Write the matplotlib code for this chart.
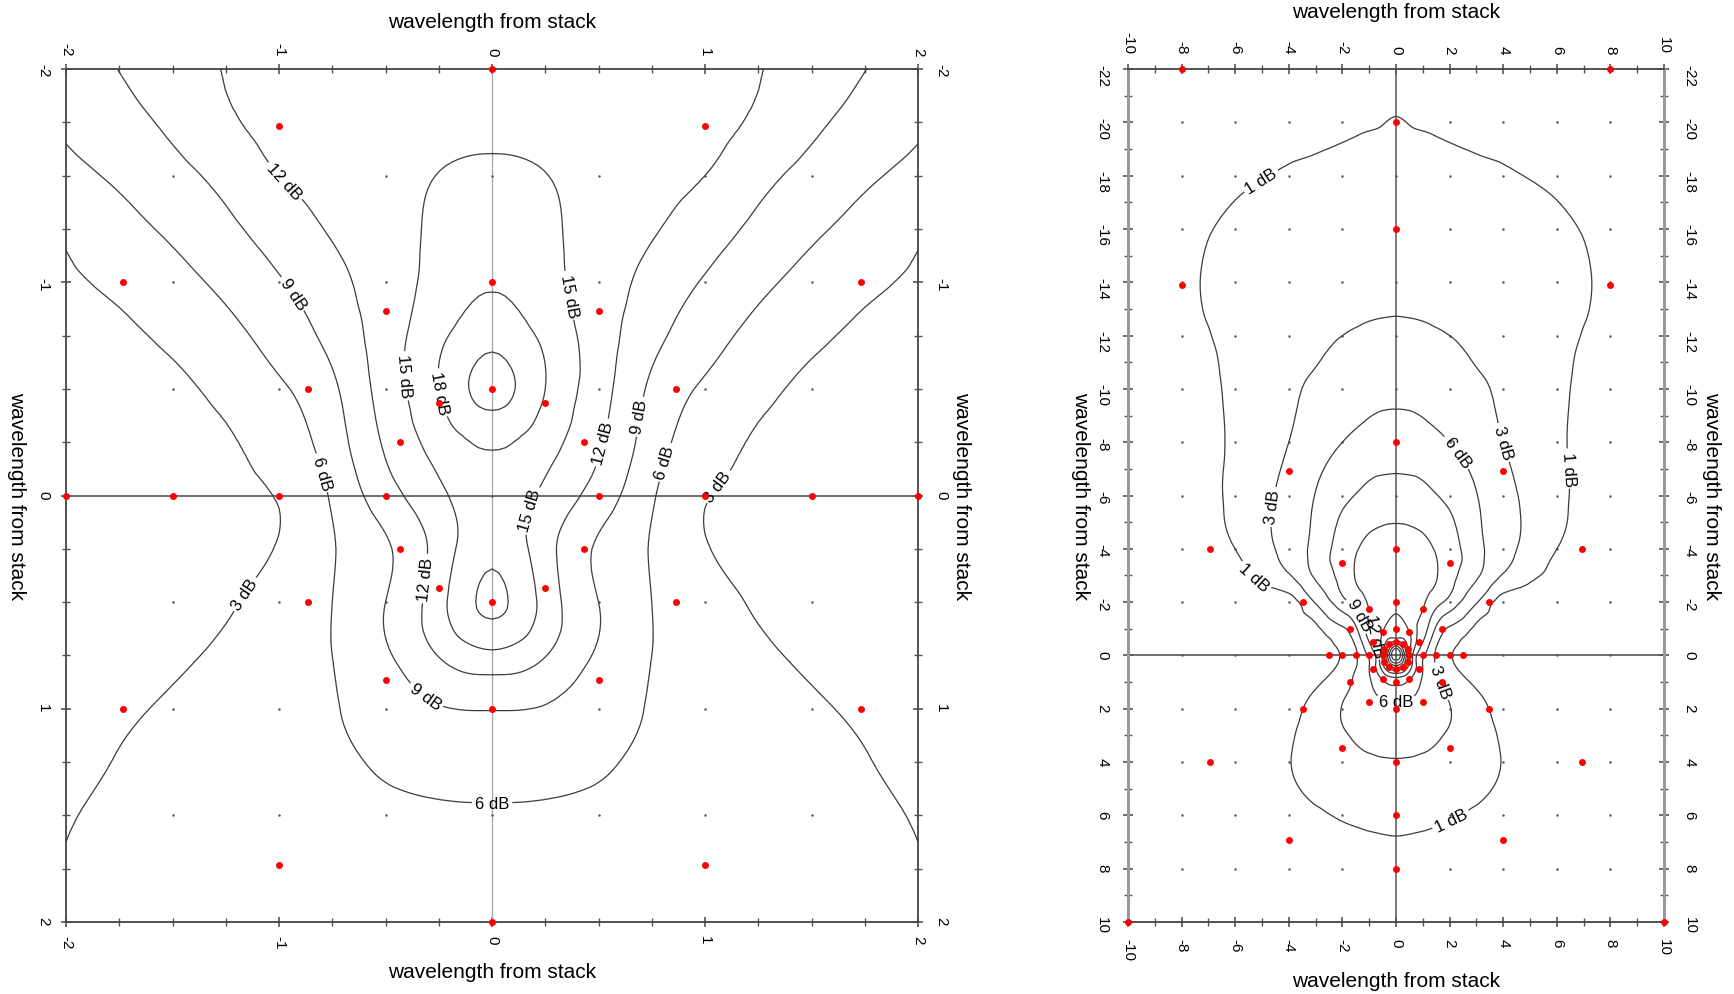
import numpy as np
import matplotlib
matplotlib.use("Agg")
import matplotlib.pyplot as plt
import matplotlib.tri as mtri
from matplotlib.ticker import MultipleLocator

plt.rcParams['font.family'] = ['Liberation Sans', 'DejaVu Sans']
plt.rcParams['axes.unicode_minus'] = False

# ---------------- data: left panel (close-up) ----------------
left_x_nodes = [-2, -1.75, -1.5, -1.25, -1, -0.75, -0.5, -0.25, 0, 0.25, 0.5, 0.75, 1, 1.25, 1.5, 1.75, 2]
left_y_nodes = [-2, -1.75, -1.5, -1.25, -1, -0.75, -0.5, -0.25, 0, 0.25, 0.5, 0.75, 1, 1.25, 1.5, 1.75, 2]
left_db = [
    [7.7, 9.05, 10.7, 12.1, 12.4, 12.7, 13.0, 13.2, 13.3, 13.2, 13.0, 12.7, 12.4, 12.1, 10.7, 9.05, 7.7],
    [6.5, 8.0, 9.6, 11.55, 12.75, 13.4, 13.9, 14.2, 14.3, 14.2, 13.9, 13.4, 12.75, 11.55, 9.6, 8.0, 6.5],
    [5.1, 6.5, 8.05, 9.95, 12.0, 13.05, 14.1, 15.05, 15.5, 15.05, 14.1, 13.05, 12.0, 9.95, 8.05, 6.5, 5.1],
    [3.4, 5.0, 6.5, 8.3, 10.4, 12.3, 14.0, 15.5, 16.6, 15.5, 14.0, 12.3, 10.4, 8.3, 6.5, 5.0, 3.4],
    [2.6, 3.6, 5.0, 6.7, 8.75, 11.0, 13.6, 16.0, 17.8, 16.0, 13.6, 11.0, 8.75, 6.7, 5.0, 3.6, 2.6],
    [1.75, 2.45, 3.55, 5.1, 7.2, 9.9, 13.5, 17.3, 19.8, 17.3, 13.5, 9.9, 7.2, 5.1, 3.55, 2.45, 1.75],
    [1.3, 1.8, 2.45, 3.75, 5.6, 8.45, 13.3, 18.0, 22.0, 18.0, 13.3, 8.45, 5.6, 3.75, 2.45, 1.8, 1.3],
    [1.15, 1.5, 1.95, 2.7, 4.3, 7.5, 12.4, 16.2, 18.5, 16.2, 12.4, 7.5, 4.3, 2.7, 1.95, 1.5, 1.15],
    [1.2, 1.5, 1.9, 2.5, 3.15, 6.35, 10.7, 14.4, 16.5, 14.4, 10.7, 6.35, 3.15, 2.5, 1.9, 1.5, 1.2],
    [1.3, 1.6, 2.0, 2.55, 3.15, 5.8, 8.6, 13.2, 17.0, 13.2, 8.6, 5.8, 3.15, 2.55, 2.0, 1.6, 1.3],
    [1.45, 1.8, 2.2, 2.8, 3.9, 6.0, 9.0, 13.9, 18.6, 13.9, 9.0, 6.0, 3.9, 2.8, 2.2, 1.8, 1.45],
    [1.7, 2.1, 2.65, 3.45, 4.7, 6.0, 8.6, 12.1, 14.3, 12.1, 8.6, 6.0, 4.7, 3.45, 2.65, 2.1, 1.7],
    [2.0, 2.65, 3.3, 4.2, 5.05, 5.85, 7.2, 8.8, 9.1, 8.8, 7.2, 5.85, 5.05, 4.2, 3.3, 2.65, 2.0],
    [2.5, 3.1, 3.8, 4.45, 5.0, 5.6, 6.3, 7.0, 7.2, 7.0, 6.3, 5.6, 5.0, 4.45, 3.8, 3.1, 2.5],
    [2.9, 3.35, 3.85, 4.35, 4.8, 5.2, 5.5, 5.65, 5.7, 5.65, 5.5, 5.2, 4.8, 4.35, 3.85, 3.35, 2.9],
    [3.05, 3.4, 3.75, 4.1, 4.45, 4.75, 5.0, 5.15, 5.2, 5.15, 5.0, 4.75, 4.45, 4.1, 3.75, 3.4, 3.05],
    [3.1, 3.35, 3.6, 3.85, 4.15, 4.4, 4.6, 4.75, 4.8, 4.75, 4.6, 4.4, 4.15, 3.85, 3.6, 3.35, 3.1],
]
left_levels = [3, 6, 9, 12, 15, 18, 21]

# measurement points (red) shown in the left panel
left_pts_x = [0, 0.25, 0.433, 0.5, 0.433, 0.25, 0, -0.25, -0.433, -0.5, -0.433, -0.25,
              0, 0.5, 0.866, 1, 0.866, 0.5, 0, -0.5, -0.866, -1, -0.866, -0.5,
              1.5, -1.5,
              0, 1, 1.732, 2, 1.732, 1, 0, -1, -1.732, -2, -1.732, -1]
left_pts_y = [-0.5, -0.433, -0.25, 0, 0.25, 0.433, 0.5, 0.433, 0.25, 0, -0.25, -0.433,
              -1, -0.866, -0.5, 0, 0.5, 0.866, 1, 0.866, 0.5, 0, -0.5, -0.866,
              0, 0,
              -2, -1.732, -1, 0, 1, 1.732, 2, 1.732, 1, 0, -1, -1.732]

# ---------------- data: right panel (wide view) ----------------
right_x_nodes = [-10, -8, -6, -4, -3, -2, -1.5, -1, -0.5, 0, 0.5, 1, 1.5, 2, 3, 4, 6, 8, 10]
right_y_nodes = [-22, -20, -18, -16, -14, -12, -10, -8, -6, -4, -3, -2, -1, -0.5, 0, 0.5, 1, 2, 3, 4, 6, 8, 10]
right_db = [
    [0.1, 0.18, 0.25, 0.33, 0.36, 0.4, 0.42, 0.45, 0.48, 0.5, 0.48, 0.45, 0.42, 0.4, 0.36, 0.33, 0.25, 0.18, 0.1],
    [0.3, 0.4, 0.5, 0.6, 0.66, 0.76, 0.84, 0.91, 0.97, 1.06, 0.97, 0.91, 0.84, 0.76, 0.66, 0.6, 0.5, 0.4, 0.3],
    [0.4, 0.6, 0.85, 1.1, 1.25, 1.42, 1.47, 1.5, 1.53, 1.55, 1.53, 1.5, 1.47, 1.42, 1.25, 1.1, 0.85, 0.6, 0.4],
    [0.5, 0.8, 1.15, 1.5, 1.75, 1.93, 2.0, 2.05, 2.09, 2.1, 2.09, 2.05, 2.0, 1.93, 1.75, 1.5, 1.15, 0.8, 0.5],
    [0.5, 0.85, 1.35, 1.9, 2.15, 2.38, 2.45, 2.5, 2.53, 2.55, 2.53, 2.5, 2.45, 2.38, 2.15, 1.9, 1.35, 0.85, 0.5],
    [0.4, 0.75, 1.3, 2.2, 2.6, 3.0, 3.15, 3.3, 3.37, 3.4, 3.37, 3.3, 3.15, 3.0, 2.6, 2.2, 1.3, 0.75, 0.4],
    [0.3, 0.55, 1.25, 2.65, 3.3, 4.1, 4.65, 5.0, 5.15, 5.2, 5.15, 5.0, 4.65, 4.1, 3.3, 2.65, 1.25, 0.55, 0.3],
    [0.3, 0.5, 1.2, 3.0, 4.5, 6.0, 6.5, 7.0, 7.35, 7.4, 7.35, 7.0, 6.5, 6.0, 4.5, 3.0, 1.2, 0.5, 0.3],
    [0.3, 0.5, 1.3, 4.0, 6.1, 8.3, 9.1, 9.9, 10.2, 10.3, 10.2, 9.9, 9.1, 8.3, 6.1, 4.0, 1.3, 0.5, 0.3],
    [0.3, 0.5, 1.0, 4.1, 7.0, 10.4, 11.8, 12.6, 13.0, 13.2, 13.0, 12.6, 11.8, 10.4, 7.0, 4.1, 1.0, 0.5, 0.3],
    [0.3, 0.45, 0.6, 2.8, 6.5, 10.1, 12.2, 13.2, 13.7, 13.9, 13.7, 13.2, 12.2, 10.1, 6.5, 2.8, 0.6, 0.45, 0.3],
    [0.2, 0.25, 0.3, 0.4, 3.2, 8.0, 10.0, 12.5, 14.0, 14.2, 14.0, 12.5, 10.0, 8.0, 3.2, 0.4, 0.3, 0.25, 0.2],
    [0.2, 0.25, 0.3, 0.4, 0.7, 2.6, 5.5, 10.5, 14.5, 16.5, 14.5, 10.5, 5.5, 2.6, 0.7, 0.4, 0.3, 0.25, 0.2],
    [0.2, 0.25, 0.3, 0.35, 0.5, 1.4, 3.6, 9.0, 16.0, 22.0, 16.0, 9.0, 3.6, 1.4, 0.5, 0.35, 0.3, 0.25, 0.2],
    [0.15, 0.2, 0.25, 0.35, 0.5, 1.1, 2.6, 6.5, 16.0, 33.0, 16.0, 6.5, 2.6, 1.1, 0.5, 0.35, 0.25, 0.2, 0.15],
    [0.15, 0.2, 0.3, 0.4, 0.5, 1.4, 3.0, 6.0, 13.0, 20.0, 13.0, 6.0, 3.0, 1.4, 0.5, 0.4, 0.3, 0.2, 0.15],
    [0.15, 0.2, 0.3, 0.45, 0.8, 2.1, 3.5, 5.6, 8.5, 10.0, 8.5, 5.6, 3.5, 2.1, 0.8, 0.45, 0.3, 0.2, 0.15],
    [0.15, 0.2, 0.35, 0.7, 1.4, 3.1, 3.9, 4.6, 5.2, 5.4, 5.2, 4.6, 3.9, 3.1, 1.4, 0.7, 0.35, 0.2, 0.15],
    [0.15, 0.2, 0.35, 0.85, 1.65, 2.75, 3.3, 3.8, 4.1, 4.2, 4.1, 3.8, 3.3, 2.75, 1.65, 0.85, 0.35, 0.2, 0.15],
    [0.15, 0.2, 0.4, 0.95, 1.55, 2.1, 2.4, 2.6, 2.75, 2.8, 2.75, 2.6, 2.4, 2.1, 1.55, 0.95, 0.4, 0.2, 0.15],
    [0.1, 0.2, 0.3, 0.6, 0.85, 1.1, 1.2, 1.28, 1.33, 1.35, 1.33, 1.28, 1.2, 1.1, 0.85, 0.6, 0.3, 0.2, 0.1],
    [0.1, 0.15, 0.2, 0.28, 0.32, 0.36, 0.38, 0.39, 0.4, 0.4, 0.4, 0.39, 0.38, 0.36, 0.32, 0.28, 0.2, 0.15, 0.1],
    [0.05, 0.08, 0.1, 0.14, 0.16, 0.18, 0.19, 0.2, 0.2, 0.2, 0.2, 0.2, 0.19, 0.18, 0.16, 0.14, 0.1, 0.08, 0.05],
]
right_levels = [1, 3, 6, 9, 12, 15, 18, 21, 24, 27, 30]

# measurement points shown in the right panel (in addition to the inner ones)
right_extra_x = [2.5, -2.5,
                 0, 2, 3.464, 3.464, 2, 0, -2, -3.464, -3.464, -2,
                 0, 4, 6.928, 6.928, 4, 0, -4, -6.928, -6.928, -4,
                 0, 0, 0, -8, 8, -8, 8, -10, 10]
right_extra_y = [0, 0,
                 -4, -3.464, -2, 2, 3.464, 4, 3.464, 2, -2, -3.464,
                 -8, -6.928, -4, 4, 6.928, 8, 6.928, 4, -4, -6.928,
                 6, -16, -20, -13.9, -13.9, -22, -22, 10, 10]

left_label_pos = [(-1.0, -1.45), (-0.93, -0.95), (-0.82, -0.1), (-1.15, 0.47), (-0.42, -0.56),
                  (-0.25, -0.48), (0.37, -0.94), (0.18, 0.07), (0.51, -0.25), (0.69, -0.37),
                  (0.83, -0.15), (1.05, -0.05), (-0.31, 0.39), (-0.31, 0.94), (0.0, 1.41)]
right_label_pos = [(-5.1, -17.9), (4.05, -8.0), (6.35, -7.0), (2.25, -7.6), (-4.8, -5.6),
                   (-5.2, -3.1), (-1.2, -1.6), (-0.9, -0.75), (1.6, 1.0), (0.0, 1.5), (2.15, 6.4)]

AXIS_LABEL = "wavelength from stack"


def grid_triangulation(xs, ys):
    X, Y = np.meshgrid(xs, ys)
    ny, nx = X.shape
    idx = np.arange(ny * nx).reshape(ny, nx)
    tris = []
    for j in range(ny - 1):
        for i in range(nx - 1):
            a, b = idx[j, i], idx[j, i + 1]
            c, d = idx[j + 1, i + 1], idx[j + 1, i]
            if 0.5 * (xs[i] + xs[i + 1]) < 0:
                tris += [[a, b, d], [b, c, d]]
            else:
                tris += [[a, b, c], [a, c, d]]
    return mtri.Triangulation(X.ravel(), Y.ravel(), np.array(tris))


def draw_field(ax, xs, ys, rows, levels, label_pos):
    tri = grid_triangulation(xs, ys)
    z = np.array(rows, float).ravel()
    interp = mtri.CubicTriInterpolator(tri, z, kind='min_E')
    tri_r, z_r = mtri.UniformTriRefiner(tri).refine_field(z, triinterpolator=interp, subdiv=3)
    cs = ax.tricontour(tri_r, z_r, levels=levels, colors='#3c3c3c', linewidths=0.9, zorder=3)
    ax.clabel(cs, inline=True, fmt='%d dB', fontsize=12, manual=label_pos, inline_spacing=3,
              colors='black')


def style(ax, xlim, ylim, major, minor, xpad, ypad, side_color, side_lw):
    ax.set_xlim(*xlim)
    ax.set_ylim(ylim[1], ylim[0])
    for a in (ax.xaxis, ax.yaxis):
        a.set_major_locator(MultipleLocator(major))
        a.set_minor_locator(MultipleLocator(minor))
    ax.tick_params(which='both', direction='inout', top=True, bottom=True, left=True, right=True,
                   labeltop=True, labelbottom=True, labelleft=True, labelright=True,
                   color='#555555', labelsize=11, labelrotation=-90)
    ax.tick_params(which='major', length=7, width=1.2)
    ax.tick_params(which='minor', length=6, width=1.0)
    ax.tick_params(axis='x', which='both', pad=xpad)
    ax.tick_params(axis='y', which='both', pad=ypad)
    for s in ('top', 'bottom'):
        ax.spines[s].set_color('#444444')
        ax.spines[s].set_linewidth(1.3)
    for s in ('left', 'right'):
        ax.spines[s].set_color(side_color)
        ax.spines[s].set_linewidth(side_lw)


fig = plt.figure(figsize=(17.34, 9.95), dpi=100)
axL = fig.add_axes([66 / 1734, 1 - 923 / 995, 852 / 1734, 853 / 995])
axR = fig.add_axes([1128 / 1734, 1 - 923 / 995, 536 / 1734, 853 / 995])

# ---- left panel ----
style(axL, (-2, 2), (-2, 2), 1, 0.25, 6, 8, '#444444', 1.3)
axL.axhline(0, color='#555555', lw=1.2, zorder=2)
axL.axvline(0, color='#aaaaaa', lw=1.0, zorder=2)
gx, gy = np.meshgrid(np.arange(-1.5, 1.51, 0.5), np.arange(-1.5, 1.51, 0.5))
axL.plot(gx.ravel(), gy.ravel(), 'o', color='#555555', ms=1.8, mec='none', zorder=2)
draw_field(axL, left_x_nodes, left_y_nodes, left_db, left_levels, left_label_pos)
axL.plot(left_pts_x, left_pts_y, 'o', color='red', ms=5, mec='none', zorder=5, clip_on=False)

# ---- right panel ----
style(axR, (-10, 10), (-22, 10), 2, 1, 8, 10, '#999999', 2.2)
axR.axhline(0, color='#555555', lw=1.2, zorder=2)
axR.axvline(0, color='#555555', lw=1.1, zorder=2)
gx, gy = np.meshgrid(np.arange(-8, 8.1, 2), np.arange(-20, 8.1, 2))
axR.plot(gx.ravel(), gy.ravel(), 'o', color='#555555', ms=1.8, mec='none', zorder=2)
draw_field(axR, right_x_nodes, right_y_nodes, right_db, right_levels, right_label_pos)
axR.plot(left_pts_x + right_extra_x, left_pts_y + right_extra_y, 'o', color='red', ms=5,
         mec='none', zorder=5, clip_on=False)

# ---- axis titles on all four sides ----
fs = 15
for (cx, top_y, bot_y, lx, rx) in [(492, 22, 973, 17, 962), (1396, 13, 982, 1081, 1712)]:
    fig.text(cx / 1734, 1 - top_y / 995, AXIS_LABEL, ha='center', va='center', fontsize=fs)
    fig.text(cx / 1734, 1 - bot_y / 995, AXIS_LABEL, ha='center', va='center', fontsize=fs)
    fig.text(lx / 1734, 1 - 496 / 995, AXIS_LABEL, ha='center', va='center', fontsize=fs, rotation=-90)
    fig.text(rx / 1734, 1 - 496 / 995, AXIS_LABEL, ha='center', va='center', fontsize=fs, rotation=-90)

fig.savefig("out.png", dpi=100)
